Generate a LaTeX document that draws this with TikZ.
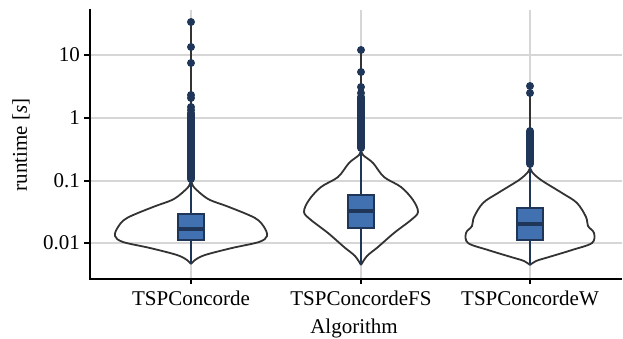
\documentclass[tikz,border=0pt]{standalone}
\usepackage{fontspec}
\setmainfont{Liberation Serif}
\definecolor{gridc}{HTML}{D6D6D6}
\definecolor{navy}{HTML}{1F3658}
\definecolor{boxc}{HTML}{4271B1}
\definecolor{vio}{HTML}{333333}
\begin{document}
\begin{tikzpicture}[x=1pt,y=-1pt,
 gridl/.style={gridc, line width=2pt},
 spine/.style={black, line width=2pt},
 tickmark/.style={black, line width=1.5pt},
 violin/.style={vio, line width=1.8pt},
 whisk/.style={navy, line width=1.5pt},
 stick/.style={vio, line width=2pt},
 boxs/.style={draw=navy, fill=boxc, line width=1.5pt},
 med/.style={navy, line width=4pt},
 dense/.style={navy, line width=8pt, line cap=round},
 lab/.style={font=\fontsize{21}{25}\selectfont, inner sep=0pt}]
\useasboundingbox (0,0) rectangle (623,339);
% grid
\foreach \yy in {55,118,181,243} \draw[gridl] (90,\yy) -- (622,\yy);
\foreach \xx in {191,361,530} \draw[gridl] (\xx,10) -- (\xx,278);
% violin 1
\begin{scope}[shift={(191,0)}]
\draw[stick] (0,22) -- (0,180);
\draw[violin] plot[smooth, tension=0.55] coordinates {(0,180) (-2,186) (-9,193) (-19,200) (-38,207) (-64,218) (-73,227) (-76,236) (-68,242) (-41,248) (-14,255) (-4,260) (0,264)};
\draw[violin] plot[smooth, tension=0.55] coordinates {(0,180) (2,186) (9,193) (19,200) (38,207) (64,218) (73,227) (76,236) (68,242) (41,248) (14,255) (4,260) (0,264)};
\draw[whisk] (0,180) -- (0,264);
\draw[boxs] (-13,214) rectangle (13,240);
\draw[med] (-12.5,229) -- (12.5,229);
\draw[dense] (0,113) -- (0,179);
\foreach \yy in {22,47,63,95,98,107,110} \fill[navy] (0,\yy) circle[radius=4pt];
\end{scope}
% violin 2
\begin{scope}[shift={(361,0)}]
\draw[stick] (0,50) -- (0,150);
\draw[violin] plot[smooth, tension=0.55] coordinates {(0,150) (-2,155) (-12,163) (-23,177) (-40,187) (-52,200) (-57,212) (-50,220) (-33,233) (-17,247) (-6,256) (0,265)};
\draw[violin] plot[smooth, tension=0.55] coordinates {(0,150) (2,155) (12,163) (23,177) (40,187) (52,200) (57,212) (50,220) (33,233) (17,247) (6,256) (0,265)};
\draw[whisk] (0,150) -- (0,265);
\draw[boxs] (-13,195) rectangle (13,228);
\draw[med] (-12.5,211) -- (12.5,211);
\draw[dense] (0,97) -- (0,148);
\foreach \yy in {50,72,87,93} \fill[navy] (0,\yy) circle[radius=4pt];
\end{scope}
% violin 3
\begin{scope}[shift={(530,0)}]
\draw[stick] (0,86) -- (0,167);
\draw[violin] plot[smooth, tension=0.55] coordinates {(0,167) (-2,172) (-11,180) (-32,193) (-47,203) (-56,217) (-58,226) (-64,233) (-62,243) (-42,250) (-19,257) (-6,261) (0,265)};
\draw[violin] plot[smooth, tension=0.55] coordinates {(0,167) (2,172) (11,180) (32,193) (47,203) (56,217) (58,226) (64,233) (62,243) (42,250) (19,257) (6,261) (0,265)};
\draw[whisk] (0,167) -- (0,265);
\draw[boxs] (-13,208) rectangle (13,240);
\draw[med] (-12.5,224) -- (12.5,224);
\draw[dense] (0,131) -- (0,164);
\foreach \yy in {86,93} \fill[navy] (0,\yy) circle[radius=4pt];
\end{scope}
% spines and ticks
\draw[spine] (90,9) -- (90,278.5) -- (622,278.5);
\foreach \yy in {55,118,181,243} \draw[tickmark] (84,\yy) -- (90,\yy);
\foreach \xx in {191,361,530} \draw[tickmark] (\xx,278.5) -- (\xx,284);
% labels
\node[lab, anchor=east] (t10) at (80,55) {10};
\node[lab, anchor=east] (t1) at (80,118) {1};
\node[lab, anchor=east] (t01) at (80,181) {0.1};
\node[lab, anchor=east] (t001) at (80,243) {0.01};
\node[lab, rotate=90] (ylab) at (21,145) {runtime [\textit{s}]};
\node[lab, anchor=base] (c1) at (191,305) {TSPConcorde};
\node[lab, anchor=base] (c2) at (361,305) {TSPConcordeFS};
\node[lab, anchor=base] (c3) at (530,305) {TSPConcordeW};
\node[lab, anchor=base] (xlab) at (354,333) {Algorithm};
\end{tikzpicture}
\end{document}
